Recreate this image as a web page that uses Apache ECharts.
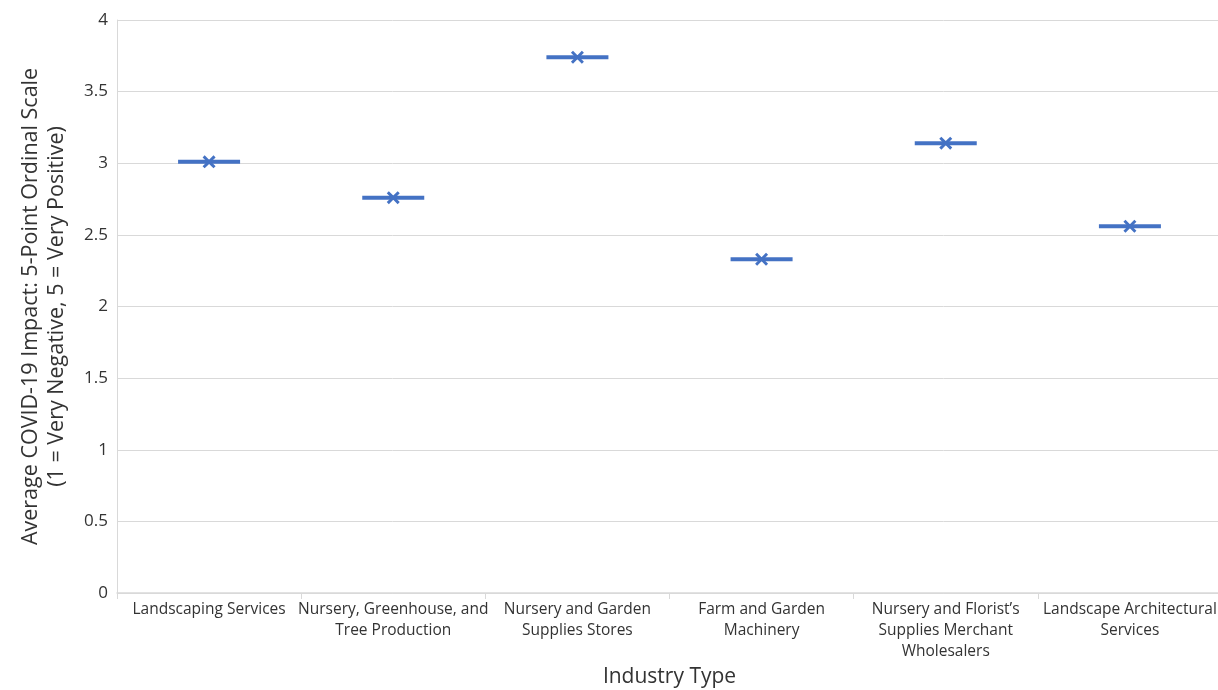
<!DOCTYPE html>
<html>
<head>
<meta charset="utf-8">
<script src="https://cdn.jsdelivr.net/npm/echarts@6/dist/echarts.min.js"></script>
<style>html,body{margin:0;padding:0;background:#fff}#c{width:1218px;height:690px}</style>
</head>
<body>
<div id="c"></div>
<script>
const categories = [
  "Landscaping Services",
  "Nursery, Greenhouse, and\nTree Production",
  "Nursery and Garden\nSupplies Stores",
  "Farm and Garden\nMachinery",
  "Nursery and Florist\u2019s\nSupplies Merchant\nWholesalers",
  "Landscape Architectural\nServices"
];
const impactValues = [3.01, 2.76, 3.74, 2.33, 3.14, 2.56];
const yTitle = "Average COVID-19 Impact: 5-Point Ordinal Scale\n(1 = Very Negative, 5 = Very Positive)";
const xTitle = "Industry Type";

const FONT = "Open Sans";
const BLUE = "#4472C4";
const xPath = 'path://M0,1.6 L1.6,0 L5,3.4 L8.4,0 L10,1.6 L6.6,5 L10,8.4 L8.4,10 L5,6.6 L1.6,10 L0,8.4 L3.4,5 Z';

const chart = echarts.init(document.getElementById('c'));
chart.setOption({
  animation: false,
  grid: { left: 117, right: -4, top: 20, bottom: 97, containLabel: false, outerBoundsMode: 'none' },
  xAxis: {
    type: 'category',
    data: categories,
    boundaryGap: true,
    name: xTitle,
    nameLocation: 'middle',
    nameGap: 74,
    nameTextStyle: { fontFamily: FONT, fontSize: 21, color: '#333' },
    axisLine: { lineStyle: { color: '#d9d9d9', width: 1.5 } },
    axisTick: { show: true, alignWithLabel: false, length: 6, lineStyle: { color: '#d9d9d9' } },
    axisLabel: { interval: 0, fontFamily: FONT, fontSize: 15.5, color: '#333', lineHeight: 21, margin: 6 }
  },
  yAxis: {
    type: 'value',
    min: 0, max: 4, interval: 0.5,
    name: yTitle,
    nameLocation: 'middle',
    nameGap: 47,
    nameTextStyle: { fontFamily: FONT, fontSize: 21.5, color: '#333', lineHeight: 26 },
    axisLine: { show: true, lineStyle: { color: '#d9d9d9', width: 1 } },
    axisTick: { show: false },
    splitLine: { lineStyle: { color: '#d9d9d9', width: 1 } },
    axisLabel: { fontFamily: FONT, fontSize: 17, color: '#333', margin: 9 }
  },
  series: [
    {
      type: 'scatter',
      data: impactValues,
      symbol: 'rect',
      symbolSize: [62, 4],
      itemStyle: { color: BLUE, opacity: 1 },
      silent: true, z: 2
    },
    {
      type: 'scatter',
      data: impactValues,
      symbol: xPath,
      symbolSize: 13,
      itemStyle: { color: BLUE, opacity: 1 },
      silent: true, z: 3
    }
  ]
});
</script>
</body>
</html>
